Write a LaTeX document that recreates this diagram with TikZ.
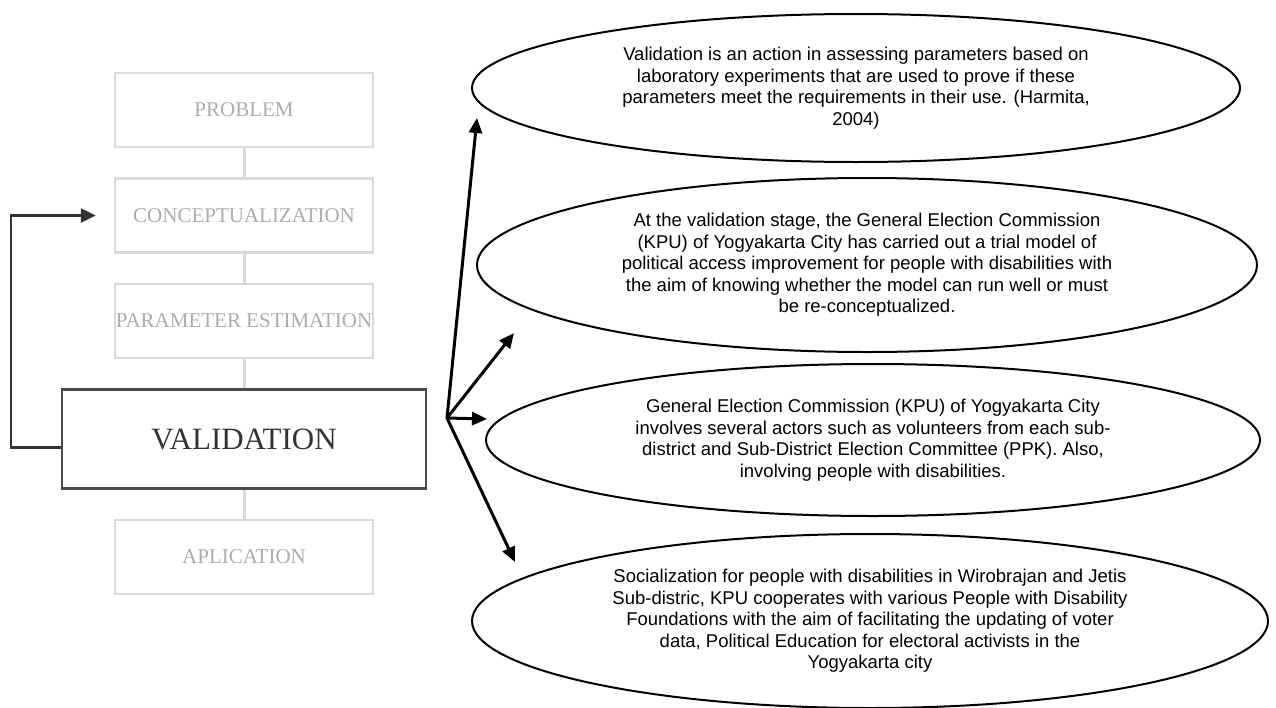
\documentclass[tikz,border=0pt]{standalone}
\usepackage{fontspec}
\setmainfont{Liberation Serif}
\setsansfont{Liberation Sans}
\usetikzlibrary{shapes.geometric,arrows.meta}

\begin{document}
\begin{tikzpicture}[x=1pt,y=-1pt,
    stage/.style={draw=gray!30,line width=2.5pt,text=gray!65,minimum width=258pt,minimum height=74pt,inner sep=0pt,font=\fontsize{21}{24}\selectfont},
    mainstage/.style={draw=black!70,line width=2.5pt,text=black!80,minimum width=364pt,minimum height=99pt,font=\fontsize{31}{36}\selectfont},
    link/.style={draw=gray!30,line width=3pt},
    bubble/.style={ellipse,draw,line width=2pt,inner sep=0pt,align=center,font=\sffamily\fontsize{18.5}{21.5}\selectfont},
    spoke/.style={line width=3pt,-{Triangle[length=15pt,width=13pt]}}]
  \useasboundingbox (0,0) rectangle (1276,707);
                  \matrix[row sep=29pt] at (244,333.5) {
                              \node[stage](prob) {PROBLEM}; \\
                              \node[stage](conc) {CONCEPTUALIZATION}; \\
                              \node[stage](par) {PARAMETER ESTIMATION}; \\
                              \node[mainstage](val) {VALIDATION}; \\
                              \node[stage](apl) {APLICATION}; \\
                                    };
                                      \draw[link] (prob) -- (conc);
                                      \draw[link] (conc) -- (par);
                                      \draw[link] (par) -- (val);
                                      \draw[link] (val) -- (apl);
                                        \draw[black!80,line width=2.5pt,-{Triangle[length=15pt,width=14pt]}] ([yshift=-8.5pt]val.west) -- ++(-50,0) |- ([xshift=-18pt]conc.west);
  \node[bubble,minimum width=768pt,minimum height=148pt] (e1) at (856,88) {Validation is an action in assessing parameters based on\\ laboratory experiments that are used to prove if these\\ parameters meet the requirements in their use. (Harmita,\\ 2004)};
  \node[bubble,minimum width=780pt,minimum height=174pt] (e2) at (867,265) {At the validation stage, the General Election Commission\\ (KPU) of Yogyakarta City has carried out a trial model of\\ political access improvement for people with disabilities with\\ the aim of knowing whether the model can run well or must\\ be re-conceptualized.};
  \node[bubble,minimum width=774pt,minimum height=152pt] (e3) at (873,440) {General Election Commission (KPU) of Yogyakarta City\\ involves several actors such as volunteers from each sub-\\ district and Sub-District Election Committee (PPK). Also,\\ involving people with disabilities.};
  \node[bubble,minimum width=796pt,minimum height=174pt] (e4) at (870,621) {Socialization for people with disabilities in Wirobrajan and Jetis\\ Sub-distric, KPU cooperates with various People with Disability\\ Foundations with the aim of facilitating the updating of voter\\ data, Political Education for electoral activists in the\\ Yogyakarta city};
  \coordinate (hub) at (447,418);
  \coordinate (t1) at (477,118);
  \coordinate (t2) at (514,333);
  \coordinate (t3) at (487,419);
  \coordinate (t4) at (515,562);
                                            \draw[spoke] (hub) -- (t1);
                                            \draw[spoke] (hub) -- (t2);
                                            \draw[spoke] (hub) -- (t3);
                                            \draw[spoke] (hub) -- (t4);
        \end{tikzpicture}
\end{document}
